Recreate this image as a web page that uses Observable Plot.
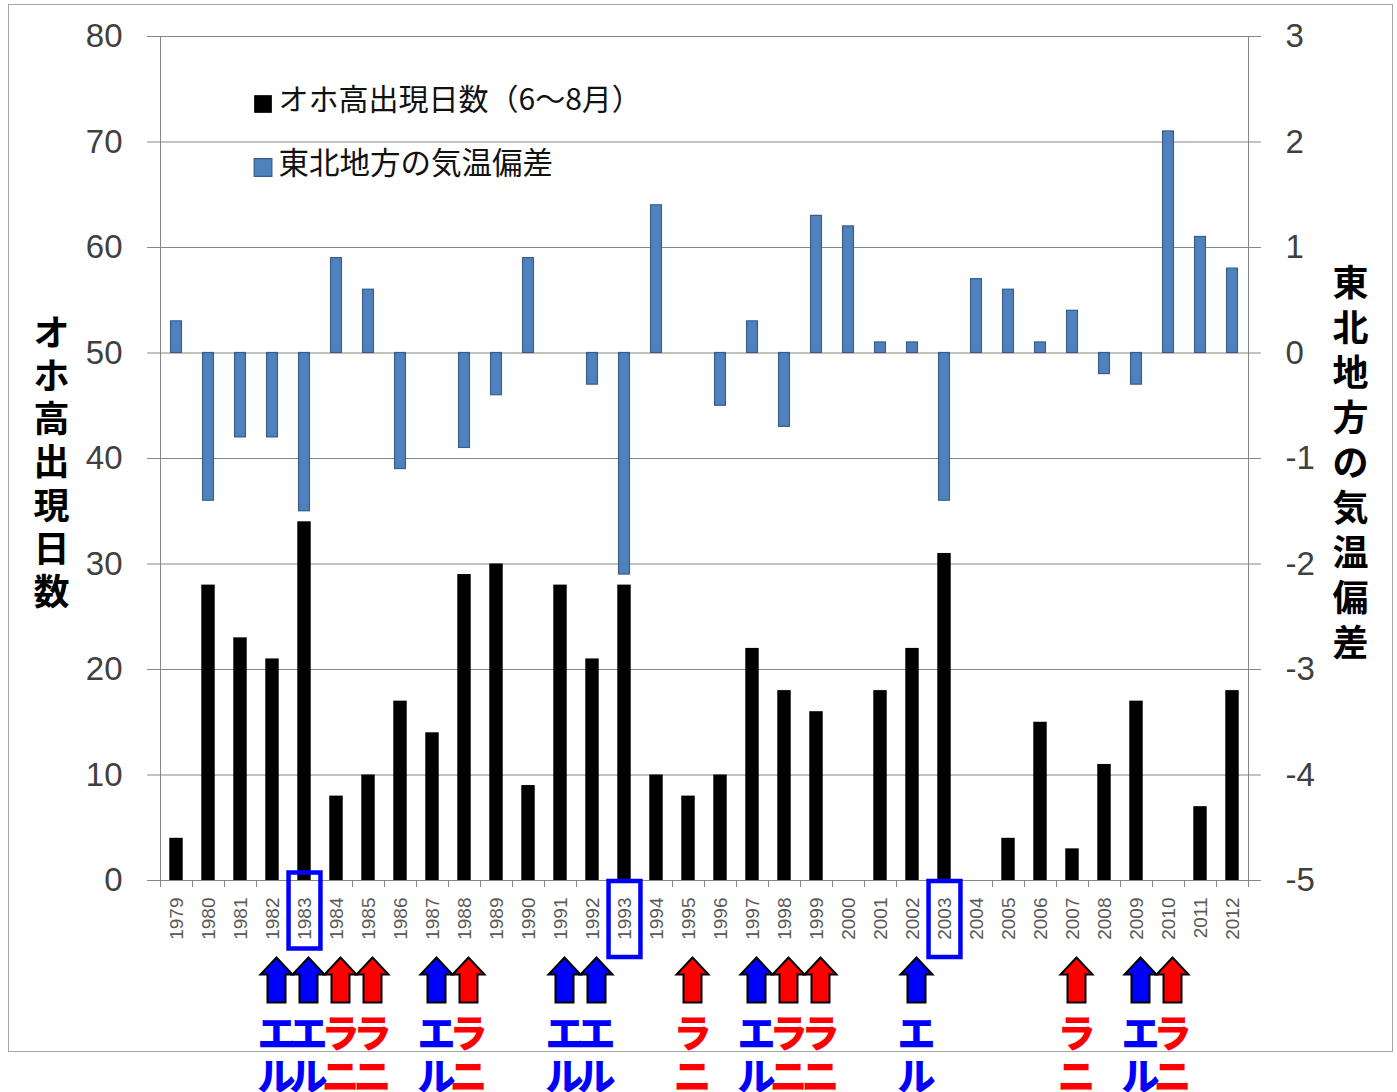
<!DOCTYPE html>
<html>
<head>
<meta charset="utf-8">
<script src="https://cdn.jsdelivr.net/npm/d3@7"></script>
<script src="https://cdn.jsdelivr.net/npm/@observablehq/plot@0.6"></script>
<style>
  body { margin: 0; background: #fff; }
  #wrap { position: relative; width: 1397px; height: 1092px; overflow: hidden; background: #fff; }
  #border { position: absolute; left: 8px; top: 4px; width: 1383px; height: 1046px; border: 1px solid #a6a6a6; pointer-events: none; }
</style>
</head>
<body>
<div id="wrap"><div id="chart"></div><div id="border"></div></div>
<script>
// ---- data ----
const years = [1979,1980,1981,1982,1983,1984,1985,1986,1987,1988,1989,1990,1991,1992,1993,1994,1995,1996,1997,1998,1999,2000,2001,2002,2003,2004,2005,2006,2007,2008,2009,2010,2011,2012];
const okhotskDays = [4,28,23,21,34,8,10,17,14,29,30,9,28,21,28,10,8,10,22,18,16,0,18,22,31,0,4,15,3,11,17,0,7,18];
const tempAnomaly = [0.3,-1.4,-0.8,-0.8,-1.5,0.9,0.6,-1.1,0,-0.9,-0.4,0.9,0,-0.3,-2.1,1.4,0,-0.5,0.3,-0.7,1.3,1.2,0.1,0.1,-1.4,0.7,0.6,0.1,0.4,-0.2,-0.3,2.1,1.1,0.8];
const elNinoYears = [1982,1983,1987,1991,1992,1997,2002,2009];
const laNinaYears = [1984,1985,1988,1995,1998,1999,2007,2010];
const highlightYears = [1983,1993,2003];
const leftTicks = [0,10,20,30,40,50,60,70,80];
const rightTicks = [-5,-4,-3,-2,-1,0,1,2,3];
const leftTitle = "オホ高出現日数";
const rightTitle = "東北地方の気温偏差";
const legendLabels = ["オホ高出現日数（6〜8月）", "東北地方の気温偏差"];
const elNinoLabel = "エル";
const laNinaLabel = "ラニ";

// ---- derived tables ----
const rows = years.map((y, i) => ({year: y, days: okhotskDays[i], anom: tempAnomaly[i]}));
// right axis (anomaly) mapped onto left axis units: anomaly 0 ↔ 50 days, 1 °C ↔ 10 days
const toLeft = v => 50 + v * 10;
const fromLeft = d => Math.round((d - 50) / 10);
const boundaries = [years[0] - 0.5, ...years.map(y => y + 0.5)];
const events = [
  ...elNinoYears.map(y => ({year: y, type: "el"})),
  ...laNinaYears.map(y => ({year: y, type: "la"}))
].sort((a, b) => a.year - b.year);

const BLUE_BAR = "#4F81BD", BLUE_EDGE = "#385D8A", GRID = "#868686";
const CJK = "'Noto Sans CJK JP', sans-serif";

const arrowSymbol = {
  draw(ctx, size) {
    const r = Math.sqrt(size / Math.PI);
    const hw = 0.711 * r, sw = 0.4 * r, hb = -0.244 * r;
    ctx.moveTo(0, -r);
    ctx.lineTo(hw, hb);
    ctx.lineTo(sw, hb);
    ctx.lineTo(sw, r);
    ctx.lineTo(-sw, r);
    ctx.lineTo(-sw, hb);
    ctx.lineTo(-hw, hb);
    ctx.closePath();
  }
};
const boxSymbol = {
  draw(ctx, size) {
    const r = Math.sqrt(size / Math.PI);
    const w = 0.42 * r;
    ctx.moveTo(-w, -r);
    ctx.lineTo(w, -r);
    ctx.lineTo(w, r);
    ctx.lineTo(-w, r);
    ctx.closePath();
  }
};

const chart = Plot.plot({
  width: 1397,
  height: 1092,
  marginLeft: 160,
  marginRight: 149,
  marginTop: 36,
  marginBottom: 212,
  style: {fontFamily: "'Liberation Sans', sans-serif", background: "#fff", overflow: "visible", color: "#404040"},
  x: {type: "linear", domain: [years[0] - 0.5, years[years.length - 1] + 0.5]},
  y: {domain: [0, 80]},
  marks: [
    Plot.gridY(leftTicks, {stroke: GRID, strokeOpacity: 1}),
    Plot.ruleX([years[0] - 0.5, years[years.length - 1] + 0.5], {stroke: GRID}),
    Plot.axisY({anchor: "left", ticks: leftTicks, tickSize: 13, tickPadding: 25, fontSize: 33, stroke: GRID, fill: "#404040", label: null}),
    Plot.axisY({anchor: "right", ticks: rightTicks.map(toLeft), tickSize: 12, tickPadding: 25, fontSize: 33, stroke: GRID, fill: "#404040", label: null, tickFormat: d => String(fromLeft(d))}),
    Plot.axisX({ticks: boundaries, tickSize: 7, stroke: GRID, tickFormat: () => "", label: null}),
    Plot.axisX({ticks: years, tickSize: 0, tickPadding: 17, tickRotate: -90, fontSize: 19, fill: "#595959", tickFormat: d => String(d), label: null}),
    // temperature anomaly bars (right axis)
    Plot.rectY(rows.filter(d => d.anom !== 0), {
      x1: d => d.year - 0.17, x2: d => d.year + 0.17,
      y1: toLeft(0), y2: d => toLeft(d.anom),
      fill: BLUE_BAR, stroke: BLUE_EDGE, strokeWidth: 1.2
    }),
    // Okhotsk high days (left axis)
    Plot.rectY(rows, {x1: d => d.year - 0.21, x2: d => d.year + 0.21, y1: 0, y2: "days", fill: "#000"}),
    // legend
    Plot.dot([legendLabels[0]], {frameAnchor: "top-left", dx: 102.5, dy: 67.5, symbol: "square", r: 10, fill: "#000"}),
    Plot.dot([legendLabels[1]], {frameAnchor: "top-left", dx: 102.5, dy: 131, symbol: "square", r: 10, fill: BLUE_BAR, stroke: BLUE_EDGE, strokeWidth: 1.2}),
    Plot.text([legendLabels[0]], {frameAnchor: "top-left", dx: 118, dy: 63.5, text: d => d, textAnchor: "start", lineAnchor: "middle", fontSize: 30, fontFamily: CJK, fill: "#111"}),
    Plot.text([legendLabels[1]], {frameAnchor: "top-left", dx: 118, dy: 127.5, text: d => d, textAnchor: "start", lineAnchor: "middle", fontSize: 30.5, fontFamily: CJK, fill: "#111"}),
    // axis titles (stacked vertically)
    Plot.text([leftTitle], {frameAnchor: "left", dx: -109, dy: 3, text: d => [...d].join("\n"), textAnchor: "middle", lineAnchor: "middle", lineHeight: 1.2, fontSize: 36, fontWeight: "bold", fontFamily: CJK, fill: "#000"}),
    Plot.text([rightTitle], {frameAnchor: "right", dx: 102, dy: 3, text: d => [...d].join("\n"), textAnchor: "middle", lineAnchor: "middle", lineHeight: 1.25, fontSize: 36, fontWeight: "bold", fontFamily: CJK, fill: "#000"}),
    // highlight boxes around year labels
    Plot.dot(highlightYears.filter(y => y === 1983), {x: d => d, frameAnchor: "bottom", dy: 30, symbol: boxSymbol, r: 38, fill: "none", stroke: "#0000ff", strokeWidth: 4.5}),
    Plot.dot(highlightYears.filter(y => y !== 1983), {x: d => d, frameAnchor: "bottom", dy: 38.5, symbol: boxSymbol, r: 38, fill: "none", stroke: "#0000ff", strokeWidth: 4.5}),
    // El Niño / La Niña arrows and labels
    Plot.dot(events, {x: "year", frameAnchor: "bottom", dx: 4, dy: 99.5, symbol: arrowSymbol, r: 22.5,
      fill: d => d.type === "el" ? "#0000ff" : "#ff0000", stroke: "#000", strokeWidth: 2}),
    Plot.text(events, {x: "year", frameAnchor: "bottom", dx: 4, dy: 174,
      text: d => [...(d.type === "el" ? elNinoLabel : laNinaLabel)].join("\n"),
      textAnchor: "middle", lineAnchor: "middle",
      lineHeight: 1.13, fontSize: 38, fontWeight: 900, fontFamily: CJK,
      fill: d => d.type === "el" ? "#0000ff" : "#ff0000"})
  ]
});
document.getElementById("chart").appendChild(chart);
</script>
</body>
</html>
